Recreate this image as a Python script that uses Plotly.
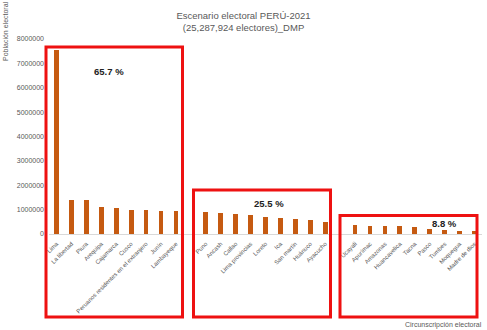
import plotly.graph_objects as go

# ---- data ----
group1_names = ["Lima", "La libertad", "Piura", "Arequipa", "Cajamarca", "Cusco",
                "Peruanos residentes en el extranjero", "Junín", "Lambayeque"]
group1_values = [7550000, 1410000, 1380000, 1115000, 1065000, 1000000, 990000, 955000, 950000]

group2_names = ["Puno", "Ancash", "Callao", "Lima provincias", "Loreto", "Ica",
                "San martín", "Huánuco", "Ayacucho"]
group2_values = [905000, 880000, 805000, 760000, 680000, 645000, 620000, 580000, 480000]

group3_names = ["Ucayali", "Apurímac", "Amazonas", "Huancavelica", "Tacna", "Pasco",
                "Tumbes", "Moquegua", "Madre de dios"]
group3_values = [380000, 315000, 312000, 310000, 290000, 185000, 180000, 135000, 112000]

group_labels = ["65.7 %", "25.5 %", "8.8 %"]
y_ticks = [0, 1000000, 2000000, 3000000, 4000000, 5000000, 6000000, 7000000, 8000000]

groups = [(group1_names, group1_values), (group2_names, group2_values), (group3_names, group3_values)]

# positions with one empty slot between groups
xs, ys, names = [], [], []
pos = 0
for gi, (n, v) in enumerate(groups):
    for name, val in zip(n, v):
        xs.append(pos); ys.append(val); names.append(name)
        pos += 1
    pos += 1
n_slots = pos - 1

BAR = "#C55A11"
GRAY = "#595959"

fig = go.Figure()
fig.add_trace(go.Bar(x=xs, y=ys, width=0.32, marker=dict(color=BAR, line=dict(width=0)),
                     hoverinfo="x+y"))

W, H = 487, 330
L, R, T, B = 49, 5, 39, 96
pw = W - L - R
ph = H - T - B

def px_x(px):
    return (px - L) / pw

def px_y(py):
    return (H - B - py) / ph

fig.update_layout(
    width=W, height=H,
    margin=dict(l=L, r=R, t=T, b=B, pad=0),
    paper_bgcolor="white", plot_bgcolor="white",
    showlegend=False,
    font=dict(family="Liberation Sans, Arial, sans-serif", color=GRAY),
    title=dict(text="Escenario electoral PERÚ-2021<br>(25,287,924 electores)_DMP",
               x=0.5, xanchor="center", y=1 - 19 / H, yanchor="middle",
               font=dict(size=9.5, color=GRAY)),
    bargap=0,
)
fig.update_xaxes(range=[-0.5, n_slots - 0.5], tickmode="array", tickvals=xs, ticktext=names,
                 tickangle=-45, tickfont=dict(size=6, color=GRAY), showgrid=False,
                 showline=True, linecolor="#D9D9D9", linewidth=1, ticks="", zeroline=False,
                 ticklabelstandoff=3)
fig.update_yaxes(range=[0, 8000000], tickmode="array", tickvals=y_ticks,
                 ticktext=[str(v) for v in y_ticks], tickfont=dict(size=7, color=GRAY),
                 showgrid=False, zeroline=False, showline=False, ticks="", ticklabelstandoff=4)

# red boxes
boxes = [(46, 47, 182.5, 317), (193.5, 190, 330.5, 317), (340, 215.5, 477, 317)]
for x0, y0, x1, y1 in boxes:
    fig.add_shape(type="rect", xref="paper", yref="paper",
                  x0=px_x(x0), x1=px_x(x1), y0=px_y(y1), y1=px_y(y0),
                  line=dict(color="#EE1111", width=3), fillcolor="rgba(0,0,0,0)", layer="above")

label_pos = [(109, 71), (269, 203), (444, 223)]
for txt, (lx, ly) in zip(group_labels, label_pos):
    fig.add_annotation(text="<b>" + txt + "</b>", xref="paper", yref="paper",
                       x=px_x(lx), y=px_y(ly), xanchor="center", yanchor="middle",
                       showarrow=False, font=dict(size=9.5, color="#222222"))

fig.add_annotation(text="Población electoral", xref="paper", yref="paper",
                   x=px_x(6), y=px_y(31), textangle=-90, xanchor="center", yanchor="middle",
                   showarrow=False, font=dict(size=7, color=GRAY))
fig.add_annotation(text="Circunscripción electoral", xref="paper", yref="paper",
                   x=px_x(484), y=px_y(325), xanchor="right", yanchor="middle",
                   showarrow=False, font=dict(size=7, color=GRAY))

fig.write_html("out.html")
